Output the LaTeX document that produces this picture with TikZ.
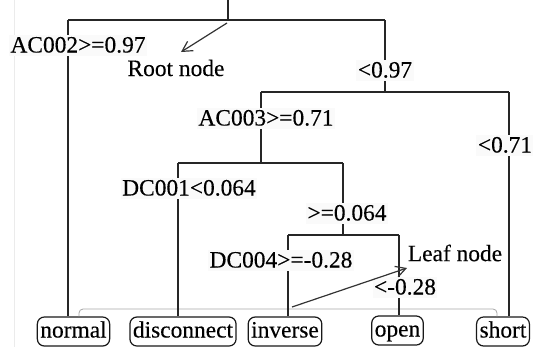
\documentclass[tikz,border=0pt]{standalone}
\usepackage{fontspec}
\setmainfont{Liberation Serif}
\newfontfamily\heavyserif{Liberation Serif}[FakeBold=0.3]
\usetikzlibrary{arrows.meta}
\begin{document}
\begin{tikzpicture}[x=1bp,y=-1bp,
  br/.style={draw=black!85, line width=1.4bp},
  txt/.style={font=\heavyserif\fontsize{23.5}{26}\selectfont},
  lbl/.style={txt, fill=black!2, inner xsep=1.5bp, inner ysep=2bp, text height=16bp, text depth=1bp},
  leaf/.style={txt, draw=black!90, line width=1.2bp, rounded corners=7bp, fill=white, inner xsep=3bp, inner ysep=2.5bp, text height=18bp, text depth=6bp},
  note/.style={txt, inner sep=0bp},
  ptr/.style={draw=black!80, line width=1.2bp, -{Straight Barb[length=10bp,width=11bp]}},
  bracket/.style={draw=black!35, line width=0.8bp, rounded corners=4bp}]
\useasboundingbox (0,0) rectangle (533,347);
\draw[draw=black!8, line width=0.6bp] (14,0) -- (14,347);
% junctions
\coordinate (top) at (228,0);
\coordinate (r0) at (228,20);
\coordinate (r0L) at (68,20);
\coordinate (r0R) at (385,20);
\coordinate (n1) at (385,92);
\coordinate (n1L) at (261,92);
\coordinate (n1R) at (509,92);
\coordinate (n2) at (261,163);
\coordinate (n2L) at (178,163);
\coordinate (n2R) at (343,163);
\coordinate (n3) at (343,235);
\coordinate (n3L) at (288,235);
\coordinate (n3R) at (399,235);
% leaves
\node[leaf] (normal) at (73.5,331.5) {normal};
\node[leaf] (disc) at (183,331.5) {disconnect};
\node[leaf] (inv) at (285,331.5) {inverse};
\node[leaf] (open) at (397.5,330.5) {open};
\node[leaf] (short) at (503,331.5) {short};
% grey bracket
\coordinate (bl) at (79,309);
\coordinate (brr) at (497,309);
\draw[bracket] (bl |- normal.north) -- (bl) -- (brr) -- (brr |- short.north);
% tree
\draw[br] (top) -- (r0);
\draw[br] (r0L) -- (r0R);
\draw[br] (r0L) -- (r0L |- normal.north);
\draw[br] (r0R) -- (n1);
\draw[br] (n1L) -- (n1R);
\draw[br] (n1R) -- (n1R |- short.north);
\draw[br] (n1L) -- (n2);
\draw[br] (n2L) -- (n2R);
\draw[br] (n2L) -- (n2L |- disc.north);
\draw[br] (n2R) -- (n3);
\draw[br] (n3L) -- (n3R);
\draw[br] (n3L) -- (n3L |- inv.north);
\draw[br] (n3R) -- (n3R |- open.north);
% labels
\node[lbl] (l1) at (78,45) {AC002>=0.97};
\node[lbl] (l2) at (385,70) {<0.97};
\node[lbl] (l3) at (266,118) {AC003>=0.71};
\node[lbl] (l4) at (505,145) {<0.71};
\node[lbl] (l5) at (189,188) {DC001<0.064};
\node[lbl] (l6) at (347,213) {>=0.064};
\node[lbl] (l7) at (281,260) {DC004>=-0.28};
\node[lbl] (l8) at (405,287) {<-0.28};
% notes
\node[note] (root) at (176,68) {Root node};
\node[note] (leafn) at (455,253) {Leaf node};
\coordinate (a1s) at (227,23);
\coordinate (a1e) at (181,52);
\coordinate (a2s) at (292,307);
\coordinate (a2e) at (407,268);
\draw[ptr] (a1s) -- (a1e);
\draw[ptr] (a2s) -- (a2e);
\end{tikzpicture}
\end{document}
